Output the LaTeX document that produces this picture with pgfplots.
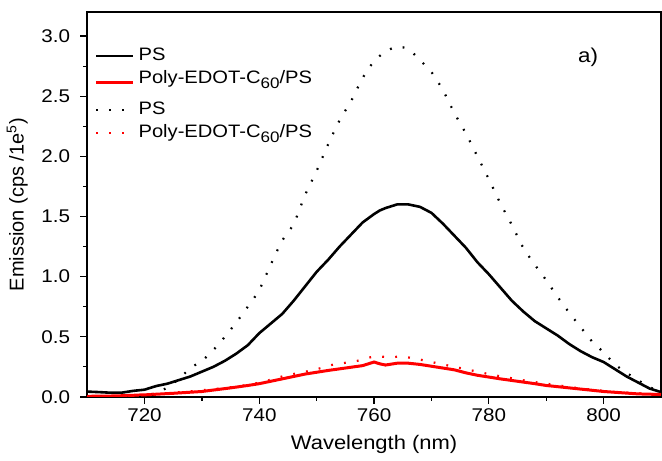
\documentclass[border=0pt]{standalone}
\usepackage{pgfplots}
\pgfplotsset{compat=1.18}
\usepackage{fontspec}
\setmainfont{Liberation Sans}[FakeStretch=1.12]
\newfontfamily\ylfont{Liberation Sans}
\newcommand{\sixty}{\raisebox{-2.6pt}{\fontsize{7.6}{8}\selectfont 60}}
\begin{document}
\begin{tikzpicture}
\begin{axis}[
  scale only axis,
  width=287pt, height=192.5pt,
  xmin=710, xmax=810, ymin=0, ymax=3.2,
  xtick={720,740,760,780,800},
  ytick={0,0.5,1.0,1.5,2.0,2.5,3.0},
  minor x tick num=1, minor y tick num=1,
  yticklabel style={xshift=-1.5pt, /pgf/number format/fixed, /pgf/number format/fixed zerofill, /pgf/number format/precision=1},
  /pgf/number format/assume math mode=true,
  tick align=outside,
  xtick pos=bottom, ytick pos=left,
  major tick length=3.5pt, minor tick length=2pt,
  every tick/.style={black, line width=0.6pt},
  axis line style={line width=1pt},
  tick label style={font=\fontsize{9.2}{10}\selectfont},
  xticklabel style={yshift=1pt},
  xlabel={Wavelength (nm)},
  ylabel={\ylfont Emission (cps /1e\textsuperscript{5})},
  xlabel style={font=\fontsize{9.8}{11}\selectfont, yshift=0.3pt},
  ylabel style={font=\fontsize{10}{11}\selectfont, yshift=0pt},
  legend style={at={(0.013,0.927)}, anchor=north west, draw=none, fill=none,
    font=\fontsize{9}{10}\selectfont, row sep=0pt, inner xsep=0pt,
    nodes={inner xsep=1.8pt, inner ysep=1.5pt, text height=6.5pt, text depth=2pt}},
  legend cell align=left,
  legend image code/.code={\draw[#1] (0pt,0pt) -- (18.5pt,0pt);},
]
\addplot[black, line width=1.3pt] coordinates {
(710,0.044) (712,0.040) (714,0.035) (716,0.035) (718,0.05) (720,0.06) (722,0.09) (724,0.11) (726,0.14) (728,0.17) (730,0.21) (732,0.25) (734,0.30) (736,0.36) (738,0.43) (740,0.53) (742,0.61) (744,0.69) (746,0.80) (748,0.92) (750,1.04) (752,1.14) (754,1.25) (756,1.35) (758,1.45) (760,1.52) (761,1.55) (762,1.57) (764,1.60) (766,1.60) (768,1.58) (770,1.53) (772,1.44) (774,1.34) (776,1.24) (778,1.12) (780,1.02) (782,0.91) (784,0.80) (786,0.71) (788,0.63) (790,0.57) (792,0.51) (794,0.44) (796,0.38) (798,0.33) (800,0.29) (802,0.23) (804,0.17) (806,0.12) (808,0.07) (810,0.04)
};
\addlegendentry{PS}
\addplot[red, line width=1.5pt] coordinates {
(710,0.005) (715,0.008) (720,0.017) (725,0.03) (730,0.045) (735,0.075) (738,0.095) (740,0.11) (742,0.13) (745,0.16) (748,0.19) (750,0.205) (752,0.22) (755,0.24) (758,0.26) (760,0.29) (761,0.275) (762,0.265) (764,0.28) (766,0.28) (768,0.27) (770,0.255) (772,0.24) (774,0.225) (776,0.20) (778,0.18) (780,0.165) (782,0.15) (785,0.13) (788,0.11) (790,0.095) (792,0.085) (795,0.07) (798,0.055) (800,0.045) (803,0.035) (806,0.025) (810,0.02)
};
\addlegendentry[text depth=6pt]{Poly-EDOT-C\sixty/PS}
\addplot[black, line width=1.1pt, dash pattern=on 0.9pt off 5.6pt, smooth] coordinates {
(710,0.0) (715,0.0) (720,0.01) (722,0.03) (724,0.08) (726,0.15) (728,0.24) (730,0.30) (732,0.39) (734,0.50) (736,0.62) (738,0.75) (740,0.89) (742,1.10) (744,1.30) (746,1.44) (748,1.68) (750,1.88) (752,2.10) (754,2.30) (756,2.46) (758,2.65) (760,2.79) (762,2.87) (764,2.91) (766,2.89) (768,2.80) (770,2.70) (772,2.55) (774,2.36) (776,2.19) (778,2.00) (780,1.81) (782,1.61) (784,1.43) (786,1.24) (788,1.10) (790,0.97) (792,0.83) (794,0.70) (796,0.58) (798,0.46) (800,0.37) (802,0.27) (804,0.20) (806,0.14) (808,0.08) (810,0.05)
};
\addlegendentry{PS}
\addplot[red, line width=1.1pt, dash pattern=on 0.9pt off 5.6pt, smooth] coordinates {
(710,0.0) (715,0.005) (720,0.02) (725,0.035) (730,0.055) (735,0.08) (738,0.10) (741,0.13) (744,0.17) (747,0.20) (750,0.23) (753,0.27) (756,0.29) (758,0.31) (760,0.335) (763,0.33) (765,0.335) (768,0.31) (770,0.29) (772,0.27) (775,0.24) (778,0.21) (781,0.18) (784,0.155) (787,0.13) (790,0.11) (793,0.09) (796,0.07) (799,0.055) (802,0.04) (806,0.03) (810,0.02)
};
\addlegendentry{Poly-EDOT-C\sixty/PS}
\node[font=\fontsize{10}{12}\selectfont] at (axis cs:797.3,2.82) {a)};
\end{axis}
\path (current axis.north east) ++(0,6pt);
\end{tikzpicture}
\end{document}
